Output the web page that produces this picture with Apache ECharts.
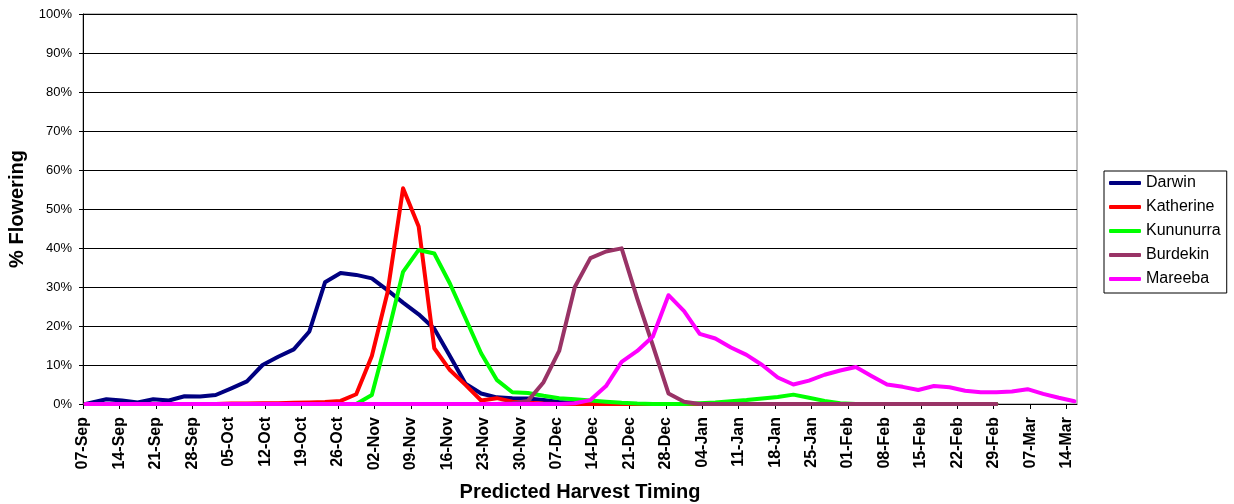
<!DOCTYPE html>
<html>
<head>
<meta charset="utf-8">
<script src="https://cdn.jsdelivr.net/npm/echarts@6/dist/echarts.min.js"></script>
<style>
html,body{margin:0;padding:0;background:#fff;}
#chart{width:1234px;height:504px;}
</style>
</head>
<body>
<div id="chart"></div>
<script>
// Axis start date and weekly tick labels
const axisStart = '2007-09-07';
const axisEndDays = 191;
const tickLabels = ['07-Sep','14-Sep','21-Sep','28-Sep','05-Oct','12-Oct','19-Oct','26-Oct',
  '02-Nov','09-Nov','16-Nov','23-Nov','30-Nov','07-Dec','14-Dec','21-Dec','28-Dec',
  '04-Jan','11-Jan','18-Jan','25-Jan','01-Feb','08-Feb','15-Feb','22-Feb','29-Feb','07-Mar','14-Mar'];

// Sampling dates of the observations
const sampleDates = ['2007-09-07','2007-09-11','2007-09-14','2007-09-17','2007-09-20','2007-09-23','2007-09-26','2007-09-29',
  '2007-10-02','2007-10-05','2007-10-08','2007-10-11','2007-10-14','2007-10-17','2007-10-20','2007-10-23','2007-10-26','2007-10-29',
  '2007-11-01','2007-11-04','2007-11-07','2007-11-10','2007-11-13','2007-11-16','2007-11-19','2007-11-22','2007-11-25','2007-11-28',
  '2007-12-01','2007-12-04','2007-12-07','2007-12-10','2007-12-13','2007-12-16','2007-12-19','2007-12-22','2007-12-25','2007-12-28','2007-12-31',
  '2008-01-03','2008-01-06','2008-01-09','2008-01-12','2008-01-15','2008-01-18','2008-01-21','2008-01-24','2008-01-27','2008-01-30',
  '2008-02-02','2008-02-05','2008-02-08','2008-02-11','2008-02-14','2008-02-17','2008-02-20','2008-02-23','2008-02-26','2008-02-29',
  '2008-03-03','2008-03-06','2008-03-09','2008-03-12','2008-03-15'];

// % flowering per site (null = no observation)
const darwin = [0,1.2,0.9,0.4,1.2,0.9,2.0,1.9,2.3,4.0,5.8,10.0,12.1,14.0,18.6,31.2,33.6,33.1,32.2,29.2,26.0,23.0,19.3,12.3,5.2,2.7,1.7,1.5,1.4,1.0,0.5,0.2,0.1,
  0,0,0,0,0,0,0,0,0,0,0,0,0,0,0,0,0,0,0,0,0,0,0,0,0,0,null,null,null,null,null];
const katherine = [0,0,0,0,0,0,0,0,0,0.1,0.1,0.2,0.2,0.3,0.4,0.5,0.8,2.5,12.3,28.5,55.3,45.5,14.3,8.7,4.9,0.9,1.5,0.6,0.3,0.1,
  0,0,0,0,0,0,0,0,0,0,0,0,0,0,0,0,0,0,0,0,0,0,0,0,0,0,0,0,0,null,null,null,null,null];
const kununurra = [0,0,0,0,0,0,0,0,0,0,0,0,0,0,0,0,0,0,2.3,17.5,33.9,39.5,38.6,30.9,22.0,13.0,6.2,3.0,2.8,2.1,1.5,1.2,0.9,0.6,0.3,0.1,
  0,0,0,0.2,0.4,0.7,1.0,1.4,1.8,2.4,1.6,0.8,0.2,0,0,0,0,0,0,0,0,0,0,null,null,null,null,null];
const burdekin = [0,0,0,0,0,0,0,0,0,0,0,0,0,0,0,0,0,0,0,0,0,0,0,0,0,0,0,0.2,0.8,5.6,13.6,30.0,37.4,39.1,39.9,27.0,15.0,2.7,0.6,
  0,0,0,0,0,0,0,0,0,0,0,0,0,0,0,0,0,0,0,0,null,null,null,null,null];
const mareeba = [0,0,0,0,0,0,0,0,0,0,0,0,0,0,0,0,0,0,0,0,0,0,0,0,0,0,0,0,0,0,0,0.2,1.0,4.6,10.8,13.6,17.3,27.9,23.8,18.0,16.8,14.5,12.6,10.0,6.8,5.0,
  6.0,7.5,8.6,9.5,7.2,5.0,4.4,3.6,4.6,4.3,3.4,3.0,3.0,3.2,3.8,2.6,1.6,0.7];

const seriesNames = ['Darwin','Katherine','Kununurra','Burdekin','Mareeba'];
const seriesValues = [darwin, katherine, kununurra, burdekin, mareeba];
const seriesColors = ['#000080','#FF0000','#00FF00','#993366','#FF00FF'];

const DAY = 86400000;
const t0 = Date.parse(axisStart + 'T00:00:00Z');
const dayOffset = d => (Date.parse(d + 'T00:00:00Z') - t0) / DAY + 0.5;

const font = 'Liberation Sans, Arial, sans-serif';
const chart = echarts.init(document.getElementById('chart'), null, {renderer: 'canvas'});
chart.setOption({
  animation: false,
  backgroundColor: '#fff',
  grid: {left: 83, right: 157, top: 14, bottom: 100, show: true, borderColor: '#808080', borderWidth: 1,
    containLabel: false, outerBoundsMode: 'none'},
  legend: {
    orient: 'vertical', left: 1104, top: 171,
    borderColor: '#000', borderWidth: 1, padding: [4, 6, 6, 5],
    itemGap: 8, itemWidth: 32, itemHeight: 4, icon: 'roundRect',
    textStyle: {fontFamily: font, fontSize: 16, lineHeight: 16, color: '#000'},
    data: seriesNames
  },
  xAxis: {
    type: 'value', min: 0, max: axisEndDays,
    name: 'Predicted Harvest Timing', nameLocation: 'middle', nameGap: 78,
    nameTextStyle: {fontFamily: font, fontSize: 20, fontWeight: 'bold', color: '#000'},
    axisLine: {show: true, lineStyle: {color: '#000', width: 1}},
    axisTick: {show: true, length: 5, lineStyle: {color: '#000'}, customValues: tickLabels.map((_, i) => i * 7)},
    axisLabel: {
      rotate: 90, margin: 13, fontFamily: font, fontSize: 16, fontWeight: 'bold', color: '#000',
      customValues: tickLabels.map((_, i) => i * 7),
      formatter: v => tickLabels[Math.round(v / 7)] || ''
    },
    splitLine: {show: false}
  },
  yAxis: {
    type: 'value', min: 0, max: 100, interval: 10,
    name: '% Flowering', nameLocation: 'middle', nameGap: 52, nameRotate: 90,
    nameTextStyle: {fontFamily: font, fontSize: 20, fontWeight: 'bold', color: '#000'},
    axisLine: {show: true, lineStyle: {color: '#000', width: 1}},
    axisTick: {show: true, length: 4, lineStyle: {color: '#000'}},
    axisLabel: {margin: 11, fontFamily: font, fontSize: 13, color: '#000', formatter: '{value}%'},
    splitLine: {show: true, lineStyle: {color: '#000', width: 1}}
  },
  series: seriesNames.map((name, k) => ({
    name, type: 'line', showSymbol: false, symbol: 'none', clip: true,
    color: seriesColors[k],
    lineStyle: {width: 4, color: seriesColors[k], join: 'round', cap: 'round'},
    data: sampleDates.map((d, i) => [dayOffset(d), seriesValues[k][i]])
  }))
});
</script>
</body>
</html>
